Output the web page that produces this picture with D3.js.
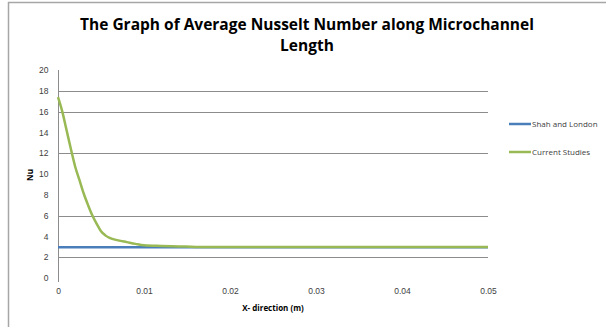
<!DOCTYPE html>
<html>
<head>
<meta charset="utf-8">
<script src="https://cdn.jsdelivr.net/npm/d3@7"></script>
<style>
  body { margin: 0; background: #fff; }
  svg { display: block; font-family: "Open Sans", "DejaVu Sans", sans-serif; }
</style>
</head>
<body>
<script>
// Data
var seriesNames = ["Shah and London", "Current Studies"];
var seriesColors = ["#4a7ebb", "#98b954"];

var shahX = [0, 0.05];
var shahNu = [2.95, 2.95];

var currentX = [0, 0.0005, 0.001, 0.0015, 0.002, 0.0025, 0.003, 0.0035, 0.004, 0.0045,
                0.005, 0.0055, 0.006, 0.007, 0.008, 0.009, 0.01, 0.012, 0.014, 0.016,
                0.02, 0.03, 0.04, 0.05];
var currentNu = [17.4, 16.0, 14.2, 12.4, 10.7, 9.4, 8.1, 7.0, 6.0, 5.2,
                 4.5, 4.1, 3.85, 3.62, 3.45, 3.28, 3.14, 3.08, 3.04, 2.99,
                 2.97, 2.97, 2.97, 2.97];

var xTicks = [0, 0.01, 0.02, 0.03, 0.04, 0.05];
var yTicks = [0, 2, 4, 6, 8, 10, 12, 14, 16, 18, 20];
var gridValues = [2, 6, 12, 16, 18];

// Chart stuff
var width = 606,
    height = 327;

var svg = d3.select("body").append("svg")
    .attr("width", width)
    .attr("height", height);

// chart area border (only top and left show)
svg.append("line").attr("x1", 8.5).attr("x2", 8.5).attr("y1", 2).attr("y2", height)
    .style("stroke", "#a6a6a6").style("stroke-width", 1.5);
svg.append("line").attr("x1", 8).attr("x2", width).attr("y1", 2.5).attr("y2", 2.5)
    .style("stroke", "#a6a6a6").style("stroke-width", 1.5);

var x = d3.scaleLinear().domain([0, 0.05]).range([58, 488]);
var y = d3.scaleLinear().domain([0, 20]).range([278, 70]);

// title
var title = svg.append("text")
    .attr("text-anchor", "middle")
    .style("font-weight", "bold")
    .style("font-size", "15.5px")
    .style("fill", "#000");
title.append("tspan").attr("x", 307).attr("y", 30)
    .text("The Graph of Average Nusselt Number along Microchannel");
title.append("tspan").attr("x", 307).attr("y", 51)
    .text("Length");

// gridlines
svg.append("g").attr("class", "grid")
  .selectAll("line")
    .data(gridValues)
  .enter().append("line")
    .attr("x1", x(0)).attr("x2", x(0.05))
    .attr("y1", function(d) { return Math.round(y(d)) + 0.5; })
    .attr("y2", function(d) { return Math.round(y(d)) + 0.5; })
    .style("stroke", "#8c8c8c")
    .style("stroke-width", 1);

// y axis
var yAxis = svg.append("g")
    .attr("transform", "translate(" + (x(0) + 0.5) + ",0)")
    .call(d3.axisLeft(y).tickValues(yTicks).tickSize(0).tickPadding(10)
        .tickFormat(d3.format("d")));
yAxis.select(".domain").attr("d", "M0," + y(20) + "V" + (y(0) + 4))
    .style("stroke", "#8c8c8c");
yAxis.selectAll("text").style("font-size", "8.5px").style("fill", "#404040");

// x axis (labels only)
var xAxis = svg.append("g")
    .attr("transform", "translate(0," + (y(0) + 6) + ")")
    .call(d3.axisBottom(x).tickValues(xTicks).tickSize(0).tickPadding(4)
        .tickFormat(function(d) { return d === 0 ? "0" : d3.format(".2f")(d); }));
xAxis.select(".domain").remove();
xAxis.selectAll("text").style("font-size", "8.5px").style("fill", "#404040");

// axis titles
svg.append("text")
    .attr("x", 273).attr("y", 311)
    .attr("text-anchor", "middle")
    .style("font-weight", "bold").style("font-size", "8px")
    .text("X- direction (m)");
svg.append("text")
    .attr("transform", "translate(33,175) rotate(-90)")
    .attr("text-anchor", "middle")
    .style("font-weight", "bold").style("font-size", "8px")
    .text("Nu");

// lines
var line = d3.line()
    .x(function(d) { return x(d[0]); })
    .y(function(d) { return y(d[1]); })
    .curve(d3.curveMonotoneX);

var seriesData = [d3.zip(shahX, shahNu), d3.zip(currentX, currentNu)];

svg.append("g").attr("class", "series")
  .selectAll("path")
    .data(seriesData)
  .enter().append("path")
    .attr("d", line)
    .style("fill", "none")
    .style("stroke", function(d, i) { return seriesColors[i]; })
    .style("stroke-width", 2.5);

// legend
var legend = svg.append("g").attr("class", "legend")
  .selectAll("g")
    .data(seriesNames)
  .enter().append("g")
    .attr("transform", function(d, i) { return "translate(509," + (124 + i * 28) + ")"; });
legend.append("line")
    .attr("x1", 0).attr("x2", 22)
    .style("stroke", function(d, i) { return seriesColors[i]; })
    .style("stroke-width", 2.5);
legend.append("text")
    .attr("x", 23).attr("dy", "0.35em")
    .style("font-size", "8px").style("fill", "#404040")
    .text(function(d) { return d; });
</script>
</body>
</html>
